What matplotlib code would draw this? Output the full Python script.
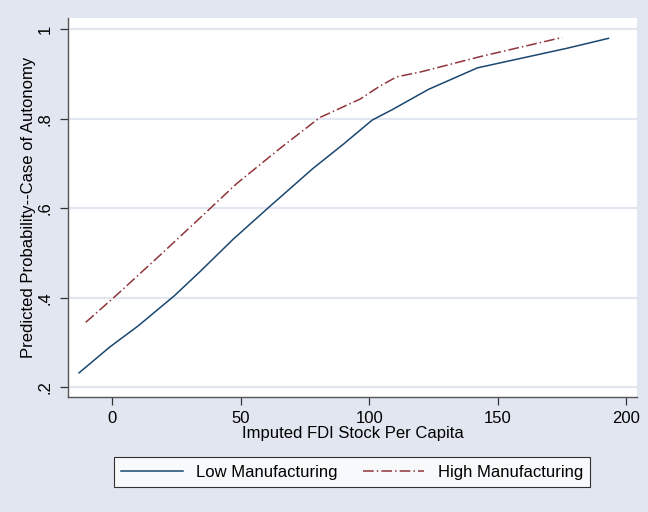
import matplotlib
matplotlib.use("Agg")
import matplotlib.pyplot as plt
from matplotlib.lines import Line2D

plt.rcParams['font.family'] = ['Liberation Sans', 'DejaVu Sans']

# Data
low_x = [-13, -1, 10, 24, 34, 47, 61, 78, 90, 101, 109, 123, 142, 177, 193]
low_y = [0.232, 0.29, 0.337, 0.404, 0.458, 0.531, 0.603, 0.689, 0.744, 0.797,
         0.821, 0.866, 0.914, 0.958, 0.980]
high_x = [-10.4, 1.6, 18.5, 34, 40.5, 48.3, 65.2, 80.7, 96.3, 104, 110.6, 120,
          143, 175]
high_y = [0.345, 0.406, 0.495, 0.578, 0.613, 0.655, 0.734, 0.803, 0.844, 0.873,
          0.894, 0.905, 0.939, 0.982]
x_ticks = [0, 50, 100, 150, 200]
x_tick_labels = ["0", "50", "100", "150", "200"]
y_ticks = [0.2, 0.4, 0.6, 0.8, 1.0]
y_tick_labels = [".2", ".4", ".6", ".8", "1"]
series_names = ["Low Manufacturing", "High Manufacturing"]

bg = "#E1E6F0"
navy = "#1A476F"
maroon = "#90353B"
fs = 12

fig = plt.figure(figsize=(6.48, 5.12), dpi=100, facecolor=bg)
ax = fig.add_axes([68/648, 1-397/512, (637-68)/648, (397-18)/512])
ax.set_facecolor("white")

ax.plot(low_x, low_y, color=navy, lw=1.1, solid_joinstyle='round')
ax.plot(high_x, high_y, color=maroon, lw=1.1, dashes=[7, 2, 1, 2])

ax.set_xlim(-17.3, 204.1)
ax.set_ylim(0.178, 1.0255)
ax.set_xticks(x_ticks)
ax.set_xticklabels(x_tick_labels)
ax.set_yticks(y_ticks)
ax.set_yticklabels(y_tick_labels, rotation=90, va='center')

ax.grid(axis='y', color="#E1E6F0", lw=1.5)
ax.set_axisbelow(True)
for s in ['top', 'right']:
    ax.spines[s].set_visible(False)
for s in ['left', 'bottom']:
    ax.spines[s].set_color("#555555")
    ax.spines[s].set_linewidth(1.0)

ax.tick_params(axis='both', direction='out', length=6, width=0.9,
               color="#333333", labelsize=fs, labelcolor="black")
ax.tick_params(axis='y', pad=5)
ax.tick_params(axis='x', pad=4)

ax.set_xlabel("Imputed FDI Stock Per Capita", fontsize=fs, labelpad=0)
ax.set_ylabel("Predicted Probability--Case of Autonomy", fontsize=fs, labelpad=1.5)

handles = [Line2D([], [], color=navy, lw=1.1),
           Line2D([], [], color=maroon, lw=1.1, dashes=[7, 2, 1, 2])]
leg = fig.legend(handles, series_names, loc='center',
                 bbox_to_anchor=(352/648, 1-472/512), ncol=2, fontsize=fs,
                 frameon=True, fancybox=False, edgecolor="black",
                 handlelength=3.7, handletextpad=0.8, columnspacing=1.5,
                 borderpad=0.45)
leg.get_frame().set_linewidth(0.8)
leg.get_frame().set_facecolor("white")

fig.savefig("out.png", dpi=100, facecolor=bg)
